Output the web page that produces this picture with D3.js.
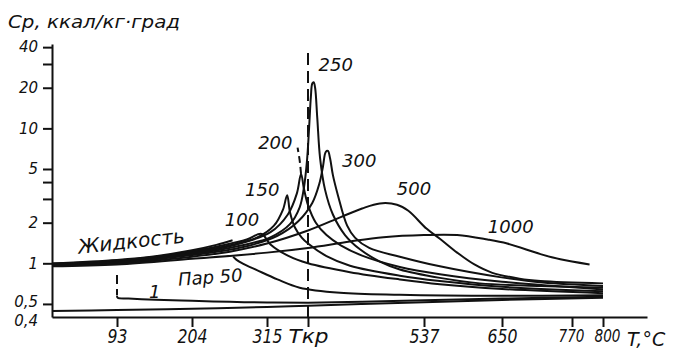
<!DOCTYPE html>
<html>
<head>
<meta charset="utf-8">
<script src="https://d3js.org/d3.v7.min.js"></script>
<style>
  body { margin: 0; background: #fff; }
  text { font-family: "DejaVu Sans", sans-serif; font-style: italic; fill: #111; }
</style>
</head>
<body>
<div id="chart"></div>
<script>
// tick values and labels
var xTickValues = [93, 204, 315, 374, 537, 650, 770, 800];
var xTickLabels = ["93", "204", "315", "Tкр", "537", "650", "770", "800"];
var yTickValues = [0.4, 0.5, 1, 2, 3, 4, 5, 10, 20, 30, 40];
var yTickLabels = ["0,4", "0,5", "1", "2", "", "", "5", "10", "20", "", "40"];

// curves: [T, Cp]
var cp0 = [[0,0.443],[93,0.45],[204,0.46],[315,0.475],[374,0.485],[450,0.5],[537,0.515],[650,0.535],[800,0.555]];
var vap1 = [[93,0.575],[94,0.556],[110,0.549],[150,0.537],[204,0.527],[260,0.518],[315,0.512],[374,0.511],[450,0.518],[537,0.532],[650,0.548],[800,0.565]];
var vap1Dash = [[93,0.82],[93,0.58]];
var liq50 = [[0,1.0],[93,1.06],[150,1.13],[204,1.25],[240,1.37],[264,1.48]];
var vap50 = [[265,1.12],[270,1.06],[280,0.99],[300,0.89],[330,0.76],[362,0.66],[419,0.605],[503,0.585],[647,0.575],[800,0.58]];
var p100 = [[0,0.99],[93,1.05],[150,1.12],[204,1.23],[250,1.36],[285,1.5],[307,1.65],[320,1.38],[345,1.14],[374,1.0],[433,0.86],[503,0.76],[560,0.7],[650,0.645],[800,0.6]];
var p150 = [[0,0.985],[93,1.04],[204,1.21],[260,1.36],[300,1.55],[325,1.9],[338,2.5],[344,3.2],[348,2.4],[355,1.85],[365,1.55],[374,1.4],[400,1.13],[433,0.96],[503,0.81],[560,0.74],[650,0.67],[800,0.62]];
var p200 = [[0,0.98],[93,1.03],[204,1.19],[270,1.38],[320,1.7],[345,2.3],[358,3.3],[364,4.6],[368,3.6],[374,2.7],[385,2.0],[400,1.62],[420,1.36],[450,1.14],[503,0.94],[560,0.83],[650,0.73],[800,0.64]];
var p200Dash = [[364,4.6],[362,5.8],[359,7.2]];
var p250 = [[0,0.975],[93,1.02],[204,1.17],[275,1.35],[319,1.55],[348,1.95],[362,2.6],[368,3.6],[372.6,5.8],[375.5,10],[378,17],[380,21.5],[382,22],[384,20],[387,12],[391,6],[398,3.5],[409,2.3],[426,1.62],[447,1.27],[475,1.03],[503,0.9],[560,0.78],[618,0.71],[716,0.68],[800,0.66]];
var p300 = [[0,0.97],[93,1.01],[204,1.15],[280,1.32],[330,1.6],[360,2.05],[380,2.8],[390,3.9],[395,5.2],[399,6.7],[402,6.8],[405,6],[409,4.5],[416,3.2],[429,1.9],[440,1.55],[460,1.3],[503,1.12],[560,0.95],[647,0.79],[720,0.72],[800,0.68]];
var p500 = [[0,0.96],[93,0.995],[204,1.12],[260,1.22],[315,1.4],[374,1.75],[420,2.2],[450,2.55],[475,2.78],[499,2.72],[515,2.45],[541,1.8],[560,1.52],[585,1.2],[610,0.98],[636,0.85],[680,0.77],[716,0.74],[800,0.71]];
var p1000 = [[0,0.95],[93,0.98],[204,1.08],[315,1.2],[374,1.3],[433,1.45],[480,1.56],[537,1.62],[585,1.62],[629,1.5],[659,1.4],[716,1.17],[750,1.07],[787,0.98]];
var tCrit = [[374,0.4],[374,39]];

// labels on the curves: [T, Cp, text, size, angle]
var curveLabels = [
  [278, 2.09, "100", 18, 0],
  [308, 3.49, "150", 18, 0],
  [327, 7.8, "200", 18, 0],
  [413, 29.9, "250", 18, 0],
  [446, 5.8, "300", 18, 0],
  [523, 3.6, "500", 18, 0],
  [665, 1.86, "1000", 18, 0],
  [114, 1.46, "Жидкость", 20, -6],
  [231, 0.79, "Пар 50", 18, -4],
  [149, 0.62, "1", 18, 0]
];

var width = 676, height = 356;

var svg = d3.select("#chart")
  .append("svg")
    .attr("width", width)
    .attr("height", height);

// hand drawn axis is not uniform, so piecewise linear
var x = d3.scaleLinear()
  .domain([0, 93, 204, 315, 374, 537, 650, 770, 800, 860])
  .range([52, 117, 192, 267, 308, 424, 502, 572, 603, 647]);

var y = d3.scaleLog()
  .domain([0.4, 42.2])
  .range([317, 44]);

var xAxis = svg.append("g")
  .attr("transform", "translate(0," + y(0.4) + ")")
  .call(d3.axisBottom(x)
    .tickValues(xTickValues)
    .tickFormat(function(d, i) { return xTickLabels[i]; })
    .tickSize(10)
    .tickSizeOuter(0)
    .tickPadding(3));
xAxis.selectAll("text")
  .style("font-size", function(d, i) { return i >= 6 ? "17px" : "19px"; })
  .attr("fill", "#111")
  .attr("textLength", function(d, i) {
    if (i === 3) return 40;
    if (i >= 6) return 26;
    return xTickLabels[i].length * 10;
  })
  .attr("lengthAdjust", "spacingAndGlyphs")
  .attr("dx", function(d, i) { return i === 7 ? 4 : (i === 6 ? -1 : 0); });

var yAxis = svg.append("g")
  .attr("transform", "translate(" + x(0) + ",0)")
  .call(d3.axisLeft(y)
    .tickValues(yTickValues)
    .tickFormat(function(d, i) { return yTickLabels[i]; })
    .tickSize(9)
    .tickSizeOuter(0)
    .tickPadding(5));
yAxis.selectAll("text").style("font-size", "15px").attr("fill", "#111");
// the two bottom labels sit very close, spread them a little
yAxis.selectAll(".tick").filter(function(d) { return d === 0.4; })
  .select("text").attr("dy", "0.55em");
yAxis.selectAll(".tick").filter(function(d) { return d === 0.5; })
  .select("text").attr("dy", "0.2em");
yAxis.selectAll(".tick line").filter(function(d) { return d === 0.4; }).remove();

svg.selectAll(".domain, .tick line")
  .attr("stroke", "#111")
  .attr("stroke-width", 2);

// axis titles
svg.append("text")
  .attr("x", 8).attr("y", 28)
  .attr("textLength", 172)
  .attr("lengthAdjust", "spacingAndGlyphs")
  .style("font-size", "18px")
  .text("Cp, ккал/кг·град");

svg.append("text")
  .attr("x", 627).attr("y", y(0.4) + 29)
  .style("font-size", "19px")
  .text("T,°C");

var line = d3.line()
  .x(function(d) { return x(d[0]); })
  .y(function(d) { return y(d[1]); })
  .curve(d3.curveCatmullRom.alpha(0.5));

var solid = [cp0, vap1, liq50, vap50, p100, p150, p200, p250, p300, p500, p1000];
svg.append("g")
  .selectAll("path")
  .data(solid)
  .enter().append("path")
    .attr("d", line)
    .attr("fill", "none")
    .attr("stroke", "#111")
    .attr("stroke-width", 2);

var dashed = [[tCrit, "12,6"], [vap1Dash, "9,5"], [p200Dash, "7,4"]];
svg.append("g")
  .selectAll("path")
  .data(dashed)
  .enter().append("path")
    .attr("d", function(d) { return line(d[0]); })
    .attr("fill", "none")
    .attr("stroke", "#111")
    .attr("stroke-width", 2)
    .attr("stroke-dasharray", function(d) { return d[1]; });

svg.append("g")
  .selectAll("text")
  .data(curveLabels)
  .enter().append("text")
    .attr("transform", function(d) {
      return "translate(" + x(d[0]) + "," + y(d[1]) + ")rotate(" + d[4] + ")";
    })
    .attr("text-anchor", "middle")
    .attr("dy", "0.35em")
    .style("font-size", function(d) { return d[3] + "px"; })
    .text(function(d) { return d[2]; });
</script>
</body>
</html>
